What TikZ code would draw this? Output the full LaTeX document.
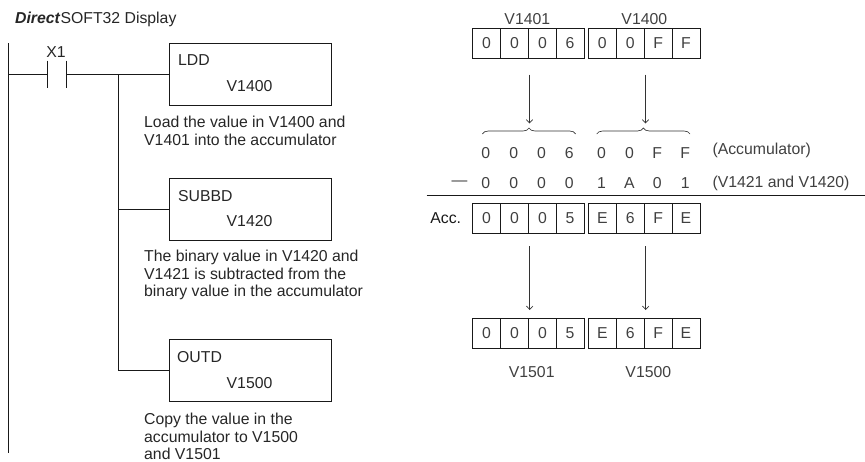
\documentclass[tikz,border=0pt]{standalone}
\usepackage{fontspec}
\setmainfont{Liberation Sans}
\usepackage{xcolor}
\usetikzlibrary{arrows.meta,positioning,calc,decorations.pathreplacing}

\begin{document}
\begin{tikzpicture}[x=1pt,y=-1pt,>={Straight Barb[length=3.5pt,width=6.5pt]},
    font=\fontsize{15.8}{17.8}\selectfont,
    wire/.style={draw=black!90,line width=0.9pt},
    thinwire/.style={draw=black!80,line width=0.65pt},
    instr/.style={draw=black!90,line width=0.9pt,minimum width=162pt,minimum height=62pt,inner sep=0pt},
    cellbox/.style={draw=black!90,line width=0.8pt,minimum width=27.9pt,minimum height=30pt,inner sep=0pt,text=black!75},
    digit/.style={text=black!75,inner sep=0pt},
    note/.style={anchor=west,align=left,inner sep=0pt,text=black!85},
    vlabel/.style={text=black!75,inner sep=0pt}]
  \useasboundingbox (0,0) rectangle (865,461);

  % ladder side
  \node[anchor=west,inner sep=0pt,text=black!85] (title) at (15,19.5) {\textbf{\textit{Direct}}SOFT32 Display};
  \coordinate (railtop) at (8,43);
  \coordinate (railbot) at (8,452.5);
  \coordinate (railtap) at (8,74);
  \coordinate (conta) at (47,74);
  \coordinate (contb) at (66.5,74);
  \coordinate (branchtop) at (118.5,74);
  \draw[wire] (railtop) -- (railbot);
  \draw[wire] (railtap) -- (conta);
  \draw[wire] ($(conta)+(0,-13.5)$) -- ($(conta)+(0,13.5)$);
  \draw[wire] ($(contb)+(0,-13.5)$) -- ($(contb)+(0,13.5)$);
  \node[inner sep=0pt,text=black!85] (xone) at (56,52.5) {X1};

  \node[instr] (ldd) at (250,74) {};
  \node[instr] (subbd) at (250,209.5) {};
  \node[instr] (outd) at (250,370.5) {};
  \draw[wire] (contb) -- (ldd.west);
  \coordinate (branchsub) at (118.5,209.5);
  \coordinate (branchout) at (118.5,370.5);
  \draw[wire] (branchtop) -- (branchout) -- (outd.west);
  \draw[wire] (branchsub) -- (subbd.west);

  \node[note] (lddname) at (178,60) {LDD};
  \node[note] (lddval) at (226.5,86) {V1400};
  \node[note] (subname) at (178,196) {SUBBD};
  \node[note] (subval) at (226.5,221) {V1420};
  \node[note] (outname) at (177,357) {OUTD};
  \node[note] (outval) at (226.5,383) {V1500};

  \node[note] (loadtxt) at (144,131) {Load the value in V1400 and\\V1401 into the accumulator};
  \node[note] (subtxt) at (144,275) {The binary value in V1420 and\\V1421 is subtracted from the\\binary value in the accumulator};
  \node[note] (copytxt) at (144,436.5) {Copy the value in the\\accumulator to V1500\\and V1501};

  % registers
  \foreach \i/\cx/\top/\mid/\bot in {1/486.6/0/0/0,2/514.5/0/0/0,3/542.4/0/0/0,4/570/6/0/5,5/602.3/0/1/E,6/630.3/0/A/6,7/658.1/F/0/F,8/686/F/1/E}{
    \node[cellbox] (src\i) at (\cx,43.3) {\top};
    \node[digit] (acc\i) at (\cx-0.8,152.7) {\top};
    \node[digit] (sub\i) at (\cx-0.8,183) {\mid};
    \node[cellbox] (res\i) at (\cx,218.3) {\bot};
    \node[cellbox] (out\i) at (\cx,333) {\bot};
  }

  \node[vlabel] (vhi) at (527.3,19) {V1401};
  \node[vlabel] (vlo) at (644.3,19) {V1400};
  \node[vlabel] (vouthi) at (531.7,371.7) {V1501};
  \node[vlabel] (voutlo) at (648.3,371.7) {V1500};

  \coordinate (bracehia) at (482.3,134);
  \coordinate (bracehib) at (575.7,134);
  \coordinate (braceloa) at (596.7,134);
  \coordinate (bracelob) at (690,134);
  \draw[thinwire,decorate,decoration={brace,amplitude=6pt}] (bracehia) -- (bracehib);
  \draw[thinwire,decorate,decoration={brace,amplitude=6pt}] (braceloa) -- (bracelob);

  \coordinate (ahi) at (529.5,74.7);
  \coordinate (ahitip) at (529.5,123.5);
  \coordinate (alo) at (645.5,74.7);
  \coordinate (alotip) at (645.5,123.5);
  \coordinate (bhi) at (529.7,246);
  \coordinate (bhitip) at (529.7,310);
  \coordinate (blo) at (645.7,246);
  \coordinate (blotip) at (645.7,310);
  \draw[->,thinwire] (ahi) -- (ahitip);
  \draw[->,thinwire] (alo) -- (alotip);
  \draw[->,thinwire] (bhi) -- (bhitip);
  \draw[->,thinwire] (blo) -- (blotip);

  \node[note,text=black!75] (accnote) at (712.3,150) {(Accumulator)};
  \node[note,text=black!75] (subnote) at (712.3,183) {(V1421 and V1420)};
  \node[digit] (minus) at (459.5,183) {---};
  \coordinate (rulea) at (426.7,195.7);
  \coordinate (ruleb) at (865,195.7);
  \draw[wire] (rulea) -- (ruleb);
  \node[inner sep=0pt,text=black!90] (acclabel) at (445.7,218) {Acc.};
\end{tikzpicture}
\end{document}
